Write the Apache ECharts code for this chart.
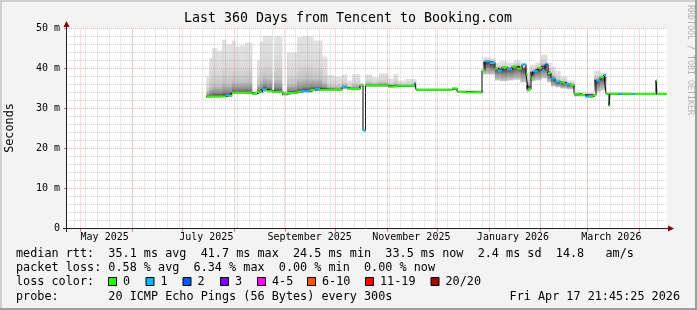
<!DOCTYPE html>
<html><head><meta charset="utf-8">
<script src="https://cdn.jsdelivr.net/npm/echarts@6/dist/echarts.min.js"></script>
<style>html,body{margin:0;padding:0;background:#f3f3f3}#c{width:697px;height:310px}</style>
</head><body><div id="c"></div>
<script>
// ---------- data ----------
const START = Date.UTC(2025, 3, 22, 21, 45, 25);
const END = Date.UTC(2026, 3, 17, 21, 45, 25);
const DAY = 86400000;
const titleText = 'Last 360 Days from Tencent to Booking.com';
const yTicks = [0, 10, 20, 30, 40, 50];
const monthStarts = ['2025-05-01','2025-06-01','2025-07-01','2025-08-01','2025-09-01','2025-10-01',
  '2025-11-01','2025-12-01','2026-01-01','2026-02-01','2026-03-01','2026-04-01'];
const xLabelDates = ['2025-05-15T12:00:00Z','2025-07-15T12:00:00Z','2025-09-15T12:00:00Z',
  '2025-11-15T12:00:00Z','2026-01-15T12:00:00Z','2026-03-15T12:00:00Z'];
const xLabels = ['May 2025','July 2025','September 2025','November 2025','January 2026','March 2026'];

// median rtt (ms), step values starting at day offset from START; loss = colour index
const medDay  = [83.6,95.4,97.8,99.0,111.0,114.0,117.0,120.0,123.0,129.6,132.0,138.0,140.4,145.8,149.0,151.8,
  165.0,168.0,171.0,175.8,177.6,179.1,192.6,198.6,208.8,209.4,231.0,234.0,239.4,249.0,250.8,253.8,256.8,258.6,
  261.0,264.0,267.0,270.0,273.0,275.4,276.6,278.4,279.6,282.6,285.0,286.8,288.6,290.4,292.8,295.8,298.8,301.8,
  304.2,307.8,310.8,313.8,315.6,317.4,319.8,322.2,323.4,325.2,325.8,331.0,333.0,339.0,340.5,353.4,354.0];
const medVal  = [33.0,33.3,33.2,34.0,33.7,34.2,34.8,34.4,34.2,33.6,33.9,34.2,34.3,34.6,34.9,34.7,
  35.3,35.0,34.9,35.8,24.5,35.8,35.5,35.7,36.4,34.7,35.0,34.2,34.0,39.5,41.8,41.5,40.0,39.5,
  40.4,39.8,40.5,40.0,41.0,38.5,34.8,37.5,39.3,40.1,39.5,41.0,38.9,37.5,36.7,36.5,36.1,35.9,
  33.7,33.4,33.0,32.9,33.3,37.0,37.8,38.4,33.7,30.7,33.7,33.7,33.7,33.6,33.6,37.0,33.6];
const medLoss = [0,1,0,0,0,0,1,0,0,0,0,0,1,0,1,0,
  1,0,0,0,1,0,0,0,1,0,0,0,0,0,1,1,0,1,
  0,1,0,0,1,0,0,0,1,0,1,2,0,1,1,0,1,0,
  0,0,1,0,0,1,0,1,0,0,0,1,0,1,0,0,0];

// smoke: bucket start day, lowest ping, dense core, highest ping (ms)
const smokeDay = [83.6,85.2,87.0,90.0,93.0,95.4,99.0,100.8,103.8,106.8,111.0,114.0,115.8,117.6,120.0,123.0,124.2,
  129.0,132.0,138.0,141.6,145.8,147.6,153.0,156.0,160.0,165.0,168.0,171.0,175.8,177.6,179.1,183.0,187.0,192.6,
  196.0,198.6,203.0,209.4,231.0,234.0,249.6,253.8,256.8,260.0,264.0,268.0,272.0,275.4,277.8,281.0,284.4,288.0,
  290.4,293.0,296.0,300.0,304.2,316.2,320.0,323.4,360.0];
const smokeLo  = [32.6,32.6,32.7,32.7,32.8,32.9,33.6,33.6,33.6,33.5,33.3,33.8,33.8,34.2,34.0,33.8,33.8,
  33.2,33.5,33.8,34.0,34.2,34.3,34.3,34.4,34.4,34.9,34.6,34.5,35.4,24.5,35.4,35.4,35.4,35.2,
  35.3,35.3,35.3,34.4,34.7,33.9,38.5,38.5,37.0,36.8,37.0,37.2,36.5,34.2,36.8,37.0,37.5,36.5,
  35.5,35.3,35.0,34.8,33.0,34.2,34.5,33.3];
const smokeMid = [33.0,33.0,33.1,33.1,33.2,33.3,34.0,34.0,34.0,34.0,33.7,34.2,34.2,34.8,34.4,34.2,34.2,
  33.6,33.9,34.2,34.4,34.6,34.7,34.7,34.7,34.7,35.3,35.0,34.9,35.8,24.5,35.8,35.8,35.8,35.5,
  35.6,35.7,35.6,34.7,35.0,34.2,41.5,41.0,40.0,39.8,40.0,40.5,40.0,35.5,39.0,39.8,40.5,39.0,
  37.5,36.5,36.3,36.0,33.5,37.0,37.8,33.6];
const smokeHi  = [38.0,42.7,45.1,44.5,47.2,46.0,47.0,45.5,45.8,46.5,34.5,42.2,46.8,48.2,48.2,35.0,48.0,
  34.4,44.0,47.8,48.2,48.0,47.0,43.0,38.4,38.0,38.5,37.0,38.6,36.5,24.5,38.5,37.8,38.8,37.5,
  38.6,37.0,37.4,35.1,35.4,34.6,42.8,42.5,41.5,41.8,41.5,42.0,41.5,39.0,41.0,41.5,43.5,41.5,
  40.5,39.5,38.0,37.0,34.0,39.5,39.0,34.0];

const lossColors = ['#26ff00','#00b8ff','#0059ff','#7e00ff','#ff00ff','#ff5500','#ff0000','#a00000'];
const lossLabels = ['0','1','2','3','4-5','6-10','11-19','20/20'];
const rttStats  = ['35.1','41.7','24.5','33.5','2.4','14.8'];
const lossStats = ['0.58','6.34','0.00','0.00'];
const probeText = '20 ICMP Echo Pings (56 Bytes) every 300s';
const stampText = 'Fri Apr 17 21:45:25 2026';

// ---------- layout ----------
const G = {left: 67, top: 28.5, width: 600, height: 200};
const MONO = '"DejaVu Sans Mono", "Liberation Mono", monospace';
const t = d => START + d * DAY;

const medLine = medDay.map((d, i) => [t(d), medVal[i]]);
medLine.push([END, medVal[medVal.length - 1]]);
const segData = medDay.map((d, i) => [t(d), i + 1 < medDay.length ? t(medDay[i + 1]) : END, medVal[i], medLoss[i]]);
const smokeData = [];
for (let i = 0; i < smokeDay.length - 1; i++) {
  if (smokeHi[i] - smokeLo[i] > 0.05) smokeData.push([t(smokeDay[i]), t(smokeDay[i + 1]), smokeLo[i], smokeMid[i], smokeHi[i]]);
}

// grid lines
const GRAY = 'rgba(140,140,140,0.38)', RED = 'rgba(230,90,90,0.45)';
const gridMarks = [];
const sunday0 = Date.UTC(2025, 3, 27);
for (let s = sunday0; s < END; s += 7 * DAY)
  gridMarks.push({xAxis: s, lineStyle: {color: GRAY, type: [1, 1], width: 1}});
for (let v = 2; v < 50; v += 2) if (v % 10)
  gridMarks.push({yAxis: v, lineStyle: {color: GRAY, type: [1, 1], width: 1}});
monthStarts.forEach(m => gridMarks.push({xAxis: new Date(m).getTime(), lineStyle: {color: RED, type: [1, 1], width: 1}}));
yTicks.forEach(v => { if (v > 0) gridMarks.push({yAxis: v, lineStyle: {color: RED, type: [1, 1], width: 1}}); });

const labelTimes = xLabelDates.map(s => new Date(s).getTime());
const monthTimes = monthStarts.map(s => new Date(s).getTime());

function smokeFill(u) {
  u = Math.max(0.03, Math.min(0.97, u));
  return new echarts.graphic.LinearGradient(0, 0, 0, 1, [
    {offset: 0, color: '#e2e2e2'},
    {offset: u * 0.5, color: '#dadada'},
    {offset: u * 0.78, color: '#c2c2c2'},
    {offset: u * 0.93, color: '#8c8c8c'},
    {offset: u, color: '#484848'},
    {offset: u + (1 - u) * 0.5, color: '#949494'},
    {offset: 1, color: '#cccccc'}
  ]);
}

// ---------- graphic decorations ----------
const gfx = [];
const txt = (x, y, text, o) => gfx.push(Object.assign({type: 'text', x, y, silent: true,
  style: Object.assign({text, font: '11.8px ' + MONO, fill: '#000', textAlign: 'left', textVerticalAlign: 'middle'}, o && o.style)},
  o && o.el));
// frame shading
gfx.push({type: 'rect', shape: {x: 0, y: 0, width: 697, height: 2}, style: {fill: '#cfcfcf'}, silent: true});
gfx.push({type: 'rect', shape: {x: 0, y: 0, width: 2, height: 310}, style: {fill: '#cfcfcf'}, silent: true});
gfx.push({type: 'rect', shape: {x: 0, y: 308, width: 697, height: 2}, style: {fill: '#9e9e9e'}, silent: true});
gfx.push({type: 'rect', shape: {x: 695, y: 0, width: 2, height: 310}, style: {fill: '#9e9e9e'}, silent: true});
// title
txt(348, 19, titleText, {style: {font: '13.3px ' + MONO, textAlign: 'center'}});
// watermark
txt(690.5, 5, 'RRDTOOL / TOBI OETIKER', {style: {font: '8.3px ' + MONO, fill: '#b4b4b4'}, el: {rotation: -Math.PI / 2}});
// y axis name
txt(10, 128, 'Seconds', {style: {textAlign: 'center'}, el: {rotation: Math.PI / 2}});
// axes
gfx.push({type: 'line', z: 50, shape: {x1: 63, y1: 228.5, x2: 668, y2: 228.5}, style: {stroke: '#1f1f1f', lineWidth: 1}, silent: true});
gfx.push({type: 'line', z: 50, shape: {x1: 66.5, y1: 232, x2: 66.5, y2: 26}, style: {stroke: '#1f1f1f', lineWidth: 1}, silent: true});
gfx.push({type: 'polygon', z: 51, shape: {points: [[668, 225.5], [668, 231.5], [674, 228.5]]}, style: {fill: '#800000'}, silent: true});
gfx.push({type: 'polygon', z: 51, shape: {points: [[63.5, 27], [69.5, 27], [66.5, 21]]}, style: {fill: '#800000'}, silent: true});
// legend lines
const L1 = 'median rtt:  ' + rttStats[0] + ' ms avg  ' + rttStats[1] + ' ms max  ' + rttStats[2] + ' ms min  ' +
  rttStats[3] + ' ms now  ' + rttStats[4] + ' ms sd  ' + rttStats[5] + '   am/s';
const L2 = 'packet loss: ' + lossStats[0] + ' % avg  ' + lossStats[1] + ' % max  ' + lossStats[2] + ' % min  ' + lossStats[3] + ' % now';
txt(16, 254, L1);
txt(16, 268, L2);
txt(16, 282, 'loss color:');
const boxX = [108, 145.5, 182.5, 220, 257, 307, 365, 430.5];
lossColors.forEach((c, i) => {
  gfx.push({type: 'rect', shape: {x: boxX[i] + 0.5, y: 277.5, width: 8, height: 8}, style: {fill: c, stroke: '#000', lineWidth: 1}, silent: true});
  txt(boxX[i] + 15, 282, lossLabels[i]);
});
txt(16, 296.5, 'probe:       ' + probeText);
txt(680, 296.5, stampText, {style: {textAlign: 'right'}});

// ---------- chart ----------
const chart = echarts.init(document.getElementById('c'), null, {renderer: 'canvas'});
chart.setOption({
  animation: false,
  backgroundColor: '#f3f3f3',
  grid: Object.assign({show: true, backgroundColor: '#ffffff', borderWidth: 0}, G),
  xAxis: {
    type: 'value', min: START, max: END,
    axisLine: {show: false},
    splitLine: {show: false},
    axisTick: {show: true, customValues: monthTimes, length: 3, lineStyle: {color: '#d07070'}},
    axisLabel: {customValues: labelTimes, margin: 4, color: '#000', fontFamily: MONO, fontSize: 10,
      formatter: v => { const i = labelTimes.indexOf(v); return i >= 0 ? xLabels[i] : ''; }}
  },
  yAxis: {
    type: 'value', min: 0, max: 50, interval: 10,
    axisLine: {show: false},
    splitLine: {show: false},
    axisTick: {show: true, length: 3, lineStyle: {color: '#d07070'}},
    axisLabel: {margin: 7, color: '#000', fontFamily: MONO, fontSize: 10, formatter: v => v === 0 ? '0' : v + ' m'}
  },
  series: [
    {
      type: 'custom', z: 2, clip: true, silent: true,
      encode: {x: [0, 1], y: [2, 4]},
      data: smokeData,
      renderItem: (p, api) => {
        const a = api.coord([api.value(0), api.value(4)]);
        const b = api.coord([api.value(1), api.value(2)]);
        const m = api.coord([api.value(0), api.value(3)]);
        const h = b[1] - a[1];
        return {type: 'rect', shape: {x: a[0], y: a[1], width: b[0] - a[0] + 0.4, height: h},
          style: {fill: smokeFill((m[1] - a[1]) / h)}};
      }
    },
    {
      type: 'line', z: 3, step: 'end', showSymbol: false, silent: true,
      data: medLine, lineStyle: {color: '#000', width: 1}
    },
    {
      type: 'custom', z: 4, clip: true, silent: true,
      encode: {x: [0, 1], y: 2},
      data: segData,
      renderItem: (p, api) => {
        const a = api.coord([api.value(0), api.value(2)]);
        const b = api.coord([api.value(1), api.value(2)]);
        return {type: 'line', shape: {x1: a[0], y1: a[1], x2: b[0], y2: b[1]},
          style: {stroke: lossColors[api.value(3)], lineWidth: 2}};
      }
    },
    {
      type: 'line', z: 6, silent: true, showSymbol: false,
      data: [[START, 0]], lineStyle: {opacity: 0},
      markLine: {silent: true, symbol: ['none', 'none'], label: {show: false}, animation: false, data: gridMarks}
    }
  ],
  graphic: gfx
});
</script></body></html>
